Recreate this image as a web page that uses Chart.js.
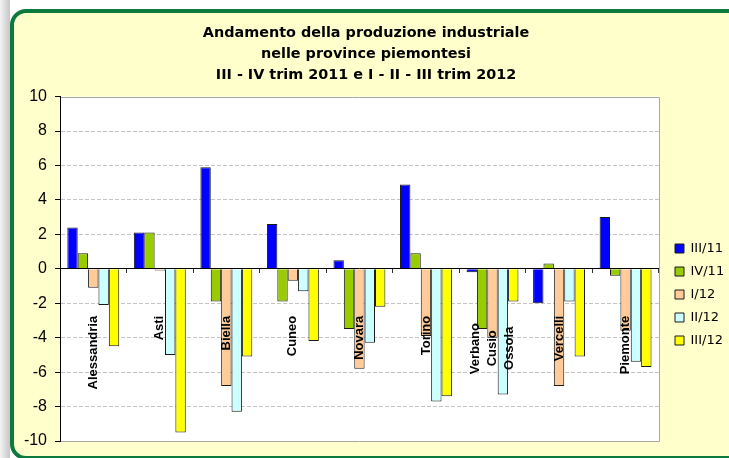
<!DOCTYPE html>
<html>
<head>
<meta charset="utf-8">
<script src="https://cdn.jsdelivr.net/npm/chart.js@4.4.1/dist/chart.umd.min.js"></script>
<style>
html,body{margin:0;padding:0;background:#ffffff;}
#page{position:relative;width:729px;height:458px;overflow:hidden;background:#ffffff;}
#strip{position:absolute;left:0;top:0;width:10px;height:458px;background:linear-gradient(to right,#f4f4f4,#c6c6c6);}
#card{position:absolute;left:10px;top:9px;width:1400px;height:451px;box-sizing:border-box;border:4px solid #0b7a3c;border-radius:16px;background:#ffffcc;}
#c{position:absolute;left:0;top:0;}
</style>
</head>
<body>
<div id="page">
<div id="strip"></div>
<div id="card"></div>
<canvas id="c" width="760" height="470"></canvas>
</div>
<script>
// ---- data ----
const categories = ['Alessandria', 'Asti', 'Biella', 'Cuneo', 'Novara', 'Torino', ['Verbano', 'Cusio', 'Ossola'], 'Vercelli', 'Piemonte'];
const seriesNames = ['III/11', 'IV/11', 'I/12', 'II/12', 'III/12'];
const q3_11 = [2.4, 2.1, 5.9, 2.6, 0.5, 4.9, -0.2, -2.0, 3.0];
const q4_11 = [0.9, 2.1, -1.9, -1.9, -3.5, 0.9, -3.5, 0.3, -0.4];
const q1_12 = [-1.1, -0.1, -6.8, -0.7, -5.8, -3.9, -4.0, -6.8, -3.6];
const q2_12 = [-2.1, -5.0, -8.3, -1.3, -4.3, -7.7, -7.3, -1.9, -5.4];
const q3_12 = [-4.5, -9.5, -5.1, -4.2, -2.2, -7.4, -1.9, -5.1, -5.7];
const titleLines = ['Andamento della produzione industriale', 'nelle province piemontesi', 'III - IV trim 2011 e I - II - III trim 2012'];
const yMin = -10, yMax = 10, yStep = 2;

const colors = ['#0000ff', '#99cc00', '#ffcc99', '#ccffff', '#ffff00'];
const seriesValues = [q3_11, q4_11, q1_12, q2_12, q3_12];

const labelFont = 'bold 13px "Liberation Sans"';
const measureCtx = document.createElement('canvas').getContext('2d');
measureCtx.font = labelFont;

// multi-line category labels: centre the lines on each other (as in the original)
function centreLines(lines) {
  const sp = measureCtx.measureText(' ').width;
  const widths = lines.map(l => measureCtx.measureText(l).width);
  const maxW = Math.max(...widths);
  return lines.map((l, i) => l + ' '.repeat(2 + Math.round((maxW - widths[i]) / 2 / sp)));
}

const plotFrame = {
  id: 'plotFrame',
  afterLayout(chart) {
    chart.legend.left = 665;
    chart.legend.top = 232;
  },
  beforeDraw(chart) {
    const {ctx, chartArea: a} = chart;
    ctx.save();
    ctx.fillStyle = '#ffffff';
    ctx.fillRect(a.left, a.top, a.right - a.left, a.bottom - a.top);
    ctx.strokeStyle = '#a8a8a8';
    ctx.lineWidth = 1;
    ctx.beginPath();
    ctx.moveTo(a.left, Math.round(a.top) + 0.5);
    ctx.lineTo(Math.round(a.right) + 0.5, Math.round(a.top) + 0.5);
    ctx.lineTo(Math.round(a.right) + 0.5, Math.round(a.bottom) + 0.5);
    ctx.lineTo(a.left, Math.round(a.bottom) + 0.5);
    ctx.stroke();
    ctx.restore();
    const s = chart.scales.x;
    s.getLabelItems().forEach(it => {
      if (Array.isArray(it.label) && it.label.length > 1 && !it._centred) {
        it.options.translation[0] -= it.font.lineHeight * (it.label.length - 1) / 2;
        it._centred = true;
      }
    });
  }
};

new Chart(document.getElementById('c'), {
  type: 'bar',
  data: {
    labels: categories,
    datasets: seriesNames.map((n, i) => ({
      label: n,
      data: seriesValues[i],
      backgroundColor: colors[i],
      borderColor: '#1a1a1a',
      borderWidth: 1,
      categoryPercentage: 0.78,
      barPercentage: 1.0
    }))
  },
  options: {
    responsive: false,
    animation: false,
    devicePixelRatio: 1,
    layout: {padding: {left: 4, right: 32, top: 0, bottom: 29}},
    plugins: {
      title: {
        display: true,
        text: titleLines,
        color: '#000',
        font: {family: 'DejaVu Sans', size: 14.4, weight: 'bold', lineHeight: 1.46},
        padding: {top: 23, bottom: 10.5}
      },
      legend: {
        display: true,
        position: 'right',
        align: 'start',
        labels: {
          boxWidth: 9,
          boxHeight: 9,
          padding: 10,
          color: '#000',
          font: {family: 'DejaVu Sans', size: 13}
        }
      },
      tooltip: {enabled: false}
    },
    scales: {
      x: {
        position: {y: 0},
        grid: {drawOnChartArea: false, offset: true, tickLength: 4, tickColor: '#333'},
        border: {color: '#000', width: 1, z: 1},
        ticks: {
          autoSkip: false,
          maxRotation: 90,
          minRotation: 90,
          padding: 43,
          color: '#000',
          z: 1,
          font: {family: 'Liberation Sans', size: 13, weight: 'bold', lineHeight: 1.3},
          callback(value) {
            const lab = this.getLabelForValue(value);
            return Array.isArray(lab) ? centreLines(lab) : lab;
          }
        }
      },
      y: {
        min: yMin,
        max: yMax,
        afterFit(s) { s.width = 56; s.paddingTop = 0; s.paddingBottom = 0; },
        grid: {
          color: c => (c.tick && (c.tick.value === 0 || c.tick.value === yMax || c.tick.value === yMin)) ? 'rgba(0,0,0,0)' : '#c4c4c4',
          tickLength: 5,
          tickColor: '#000'
        },
        border: {color: '#000', width: 1, dash: [4, 2]},
        ticks: {
          stepSize: yStep,
          padding: 8,
          color: '#000',
          font: {family: 'Liberation Sans', size: 16}
        }
      }
    }
  },
  plugins: [plotFrame]
});
</script>
</body>
</html>
